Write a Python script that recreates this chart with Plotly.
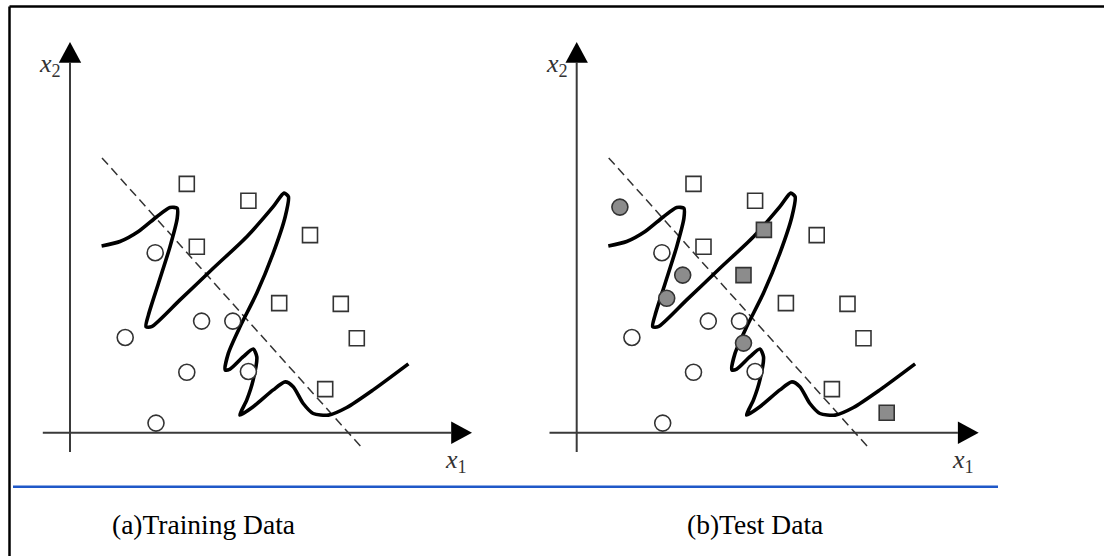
import plotly.graph_objects as go

W, H = 1104, 556

# Samples of the two classes, shared by both panels (x1, x2 feature units)
square_x = [2.92, 4.46, 6.00, 3.17, 5.23, 6.77, 7.17, 6.38]
square_y = [6.22, 5.80, 4.94, 4.65, 3.24, 3.22, 2.36, 1.09]
circle_x = [2.13, 1.38, 3.29, 4.07, 2.92, 4.46, 2.15]
circle_y = [4.50, 2.38, 2.79, 2.79, 1.51, 1.53, 0.24]

# Additional test samples (shaded)
test_circle_x = [1.08, 2.65, 2.25, 4.17]
test_circle_y = [5.64, 3.94, 3.36, 2.24]
test_square_x = [4.68, 4.17, 7.75]
test_square_y = [5.07, 3.94, 0.50]

# Simple linear decision boundary
linear_x = [0.80, 7.30]
linear_y = [6.87, -0.38]

# Over-fitted decision boundary
curve_x = [0.79, 1.25, 1.71, 2.17, 2.50, 2.68, 2.68, 2.50, 2.21, 1.96, 1.90, 2.04,
           2.75, 3.58, 4.42, 5.08, 5.35, 5.46, 5.38, 5.08, 4.67, 4.25, 3.96, 3.88,
           4.00, 4.33, 4.58, 4.67, 4.58, 4.42, 4.25, 4.58, 5.08, 5.38, 5.58, 5.83,
           6.08, 6.46, 6.92, 7.58, 8.46]
curve_y = [4.67, 4.78, 5.03, 5.40, 5.63, 5.61, 5.36, 4.65, 3.73, 2.94, 2.65, 2.65,
           3.32, 4.11, 4.90, 5.65, 5.99, 5.90, 5.40, 4.49, 3.49, 2.65, 1.99, 1.57,
           1.59, 1.90, 2.09, 1.90, 1.32, 0.82, 0.44, 0.65, 1.07, 1.27, 1.15, 0.73,
           0.48, 0.44, 0.63, 1.07, 1.72]

# Axis extents (tail, tip)
x1_axis = [-0.68, 10.05]
x2_axis = [-0.48, 9.77]
x1_label_pos = [9.65, -0.70]
x2_label_pos = [-0.50, 9.20]

panel_titles = ["(a)Training Data", "(b)Test Data"]
title_left_px = [110, 685]

SERIF = "Liberation Serif, Times New Roman, serif"
INK = "#222222"
EDGE = "#333333"
SHADE = "#8c8c8c"

# arrow head size in feature units (length, half width)
HEAD_LEN, HEAD_HALF = 0.52, 0.28

fig = go.Figure()
shapes = []

for i, (xa, ya) in enumerate([("x", "y"), ("x2", "y2")]):
    # coordinate axes
    fig.add_trace(go.Scatter(
        x=[x1_axis[0], x1_axis[1] - HEAD_LEN], y=[0, 0], xaxis=xa, yaxis=ya,
        mode="lines", line=dict(color="#3a3a3a", width=2), showlegend=False))
    fig.add_trace(go.Scatter(
        x=[0, 0], y=[x2_axis[0], x2_axis[1] - HEAD_LEN], xaxis=xa, yaxis=ya,
        mode="lines", line=dict(color="#3a3a3a", width=2), showlegend=False))
    t1, t2 = x1_axis[1], x2_axis[1]
    shapes.append(dict(
        type="path", xref=xa, yref=ya, fillcolor="black", line=dict(width=0),
        path=f"M{t1},0 L{t1 - HEAD_LEN},{HEAD_HALF} L{t1 - HEAD_LEN},{-HEAD_HALF} Z"))
    shapes.append(dict(
        type="path", xref=xa, yref=ya, fillcolor="black", line=dict(width=0),
        path=f"M0,{t2} L{HEAD_HALF},{t2 - HEAD_LEN} L{-HEAD_HALF},{t2 - HEAD_LEN} Z"))

    fig.add_trace(go.Scatter(
        x=linear_x, y=linear_y, xaxis=xa, yaxis=ya, mode="lines",
        line=dict(color=EDGE, width=1.5, dash="9px,5px"), showlegend=False))
    fig.add_trace(go.Scatter(
        x=curve_x, y=curve_y, xaxis=xa, yaxis=ya, mode="lines",
        line=dict(color="black", width=3.6, shape="spline", smoothing=0.7),
        showlegend=False))
    fig.add_trace(go.Scatter(
        x=square_x, y=square_y, xaxis=xa, yaxis=ya, mode="markers",
        marker=dict(symbol="square", size=15, color="white",
                    line=dict(color=EDGE, width=1.6)), showlegend=False))
    fig.add_trace(go.Scatter(
        x=circle_x, y=circle_y, xaxis=xa, yaxis=ya, mode="markers",
        marker=dict(symbol="circle", size=16, color="white",
                    line=dict(color=EDGE, width=1.6)), showlegend=False))
    if i == 1:
        fig.add_trace(go.Scatter(
            x=test_circle_x, y=test_circle_y, xaxis=xa, yaxis=ya, mode="markers",
            marker=dict(symbol="circle", size=16, color=SHADE,
                        line=dict(color=EDGE, width=1.6)), showlegend=False))
        fig.add_trace(go.Scatter(
            x=test_square_x, y=test_square_y, xaxis=xa, yaxis=ya, mode="markers",
            marker=dict(symbol="square", size=15, color=SHADE,
                        line=dict(color=EDGE, width=1.6)), showlegend=False))

annotations = []
for xa, ya in [("x", "y"), ("x2", "y2")]:
    annotations.append(dict(
        x=x1_label_pos[0], y=x1_label_pos[1], xref=xa, yref=ya, showarrow=False,
        text="<i>x</i><sub>1</sub>", font=dict(family=SERIF, size=26, color="#333")))
    annotations.append(dict(
        x=x2_label_pos[0], y=x2_label_pos[1], xref=xa, yref=ya, showarrow=False,
        text="<i>x</i><sub>2</sub>", font=dict(family=SERIF, size=26, color="#333")))

for title, left in zip(panel_titles, title_left_px):
    annotations.append(dict(
        x=left / W, y=1 - 524 / H, xref="paper", yref="paper", xanchor="left",
        yanchor="middle", showarrow=False, text=title,
        font=dict(family=SERIF, size=27.5, color="black")))

shapes += [
    # frame
    dict(type="line", xref="paper", yref="paper", x0=9.5 / W, x1=1, y0=1 - 6.5 / H,
         y1=1 - 6.5 / H, line=dict(color="black", width=2.5)),
    dict(type="line", xref="paper", yref="paper", x0=9.5 / W, x1=9.5 / W, y0=0,
         y1=1 - 6.5 / H, line=dict(color="black", width=2.5)),
    # separator
    dict(type="line", xref="paper", yref="paper", x0=13 / W, x1=998 / W,
         y0=1 - 486.7 / H, y1=1 - 486.7 / H, line=dict(color="#1f58c8", width=2.5)),
]

# 40 px per feature unit; x range spans 12 units, y range 12.5 units
x_range = [-1.5, 10.5]
y_range = [-2.0, 10.5]
y_dom = [1 - 512.7 / H, 1 - 12.7 / H]
axis_common = dict(visible=False, fixedrange=True)

fig.update_layout(
    width=W, height=H, margin=dict(l=0, r=0, t=0, b=0),
    paper_bgcolor="white", plot_bgcolor="rgba(0,0,0,0)",
    xaxis=dict(domain=[10 / W, 490 / W], range=x_range, **axis_common),
    yaxis=dict(domain=y_dom, range=y_range, **axis_common),
    xaxis2=dict(domain=[516.7 / W, 996.7 / W], range=x_range, anchor="y2", **axis_common),
    yaxis2=dict(domain=y_dom, range=y_range, anchor="x2", **axis_common),
    annotations=annotations, shapes=shapes, showlegend=False,
)

fig.write_html("out.html")
